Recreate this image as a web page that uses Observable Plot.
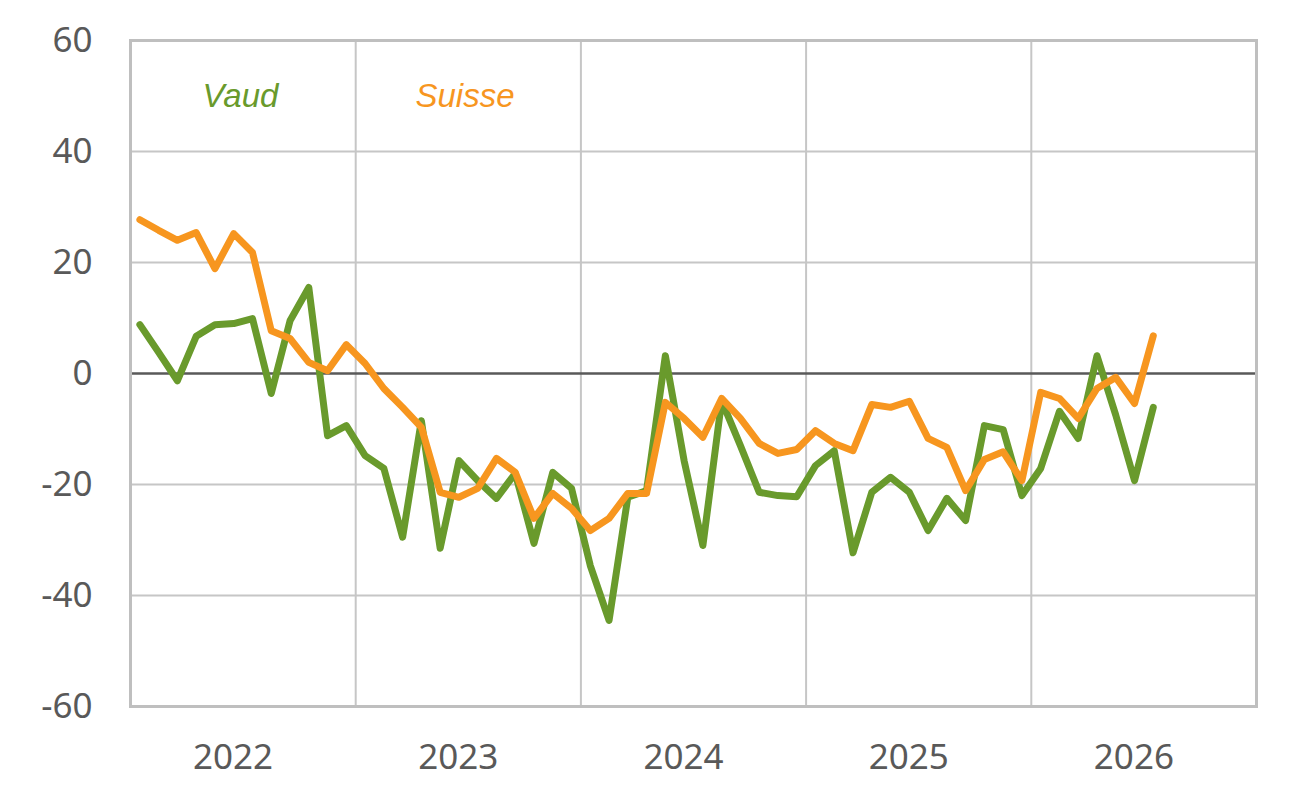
<!DOCTYPE html>
<html>
<head>
<meta charset="utf-8">
<script src="https://cdn.jsdelivr.net/npm/d3@7"></script>
<script src="https://cdn.jsdelivr.net/npm/@observablehq/plot@0.6"></script>
<style>
  html, body { margin: 0; padding: 0; background: #fff; }
  #chart svg { display: block; }
</style>
</head>
<body>
<div id="chart"></div>
<script>
// Monthly values, Jan 2022 onwards (index 0 = Jan 2022)
const years = ["2022", "2023", "2024", "2025", "2026"];
const suisse = [27.7, 25.8, 24.0, 25.4, 18.9, 25.2, 21.8, 7.7, 6.3, 2.0, 0.5, 5.2,
  1.8, -2.7, -6.1, -9.7, -21.4, -22.3, -20.7, -15.3, -17.8, -26.1, -21.6, -24.3,
  -28.3, -26.1, -21.6, -21.6, -5.2, -8.1, -11.5, -4.5, -8.1, -12.6, -14.4, -13.7,
  -10.3, -12.6, -13.9, -5.6, -6.1, -5.0, -11.7, -13.3, -21.1, -15.5, -14.1, -19.3,
  -3.4, -4.5, -8.1, -2.7, -0.7, -5.4, 6.8];
const vaud = [8.8, 3.8, -1.3, 6.7, 8.8, 9.0, 9.9, -3.6, 9.5, 15.5, -11.2, -9.4,
  -14.8, -17.1, -29.5, -8.5, -31.5, -15.7, -19.3, -22.5, -18.0, -30.6, -17.8, -20.7,
  -34.6, -44.5, -22.3, -21.1, 3.2, -15.7, -31.0, -4.9, -13.0, -21.4, -22.0, -22.2,
  -16.6, -13.9, -32.3, -21.4, -18.7, -21.4, -28.3, -22.5, -26.5, -9.4, -10.1, -22.0,
  -17.1, -6.8, -11.7, 3.2, -7.5, -19.3, -6.1];
const yTicks = [-60, -40, -20, 0, 20, 40, 60];
const seriesNames = ["Vaud", "Suisse"];
const colors = {Vaud: "#699a2c", Suisse: "#f7961f"};

const rows = [];
vaud.forEach((v, i) => rows.push({series: "Vaud", m: i + 0.5, value: v}));
suisse.forEach((v, i) => rows.push({series: "Suisse", m: i + 0.5, value: v}));

const yearBounds = years.slice(1).map((_, i) => (i + 1) * 12);
const yearCenters = years.map((_, i) => i * 12 + 6);

const font = "'Noto Sans', 'Open Sans', sans-serif";
const legendFont = "'Liberation Sans', Arial, sans-serif";

const chart = Plot.plot({
  width: 1316,
  height: 797,
  marginLeft: 130,
  marginRight: 60,
  marginTop: 40,
  marginBottom: 91,
  style: {fontFamily: font, background: "#fff"},
  x: {domain: [0, years.length * 12], axis: null, label: null},
  y: {domain: [-60, 60], axis: null, label: null},
  marks: [
    Plot.ruleY(yTicks.filter(d => d !== 0 && Math.abs(d) !== 60), {stroke: "#c6c6c6", strokeWidth: 2}),
    Plot.ruleX(yearBounds, {stroke: "#c6c6c6", strokeWidth: 2}),
    Plot.ruleY([0], {stroke: "#595959", strokeWidth: 2.5}),
    Plot.frame({stroke: "#bfbfbf", strokeWidth: 3}),
    Plot.axisY(yTicks, {tickSize: 0, tickPadding: 38, fontSize: 35, fill: "#595959", anchor: "left",
      label: null, tickFormat: d => String(d)}),
    Plot.axisX(yearCenters, {tickSize: 0, tickPadding: 38, fontSize: 35, fill: "#595959", anchor: "bottom",
      label: null, tickFormat: d => years[(d - 6) / 12], dx: -10}),
    Plot.line(rows, {x: "m", y: "value", z: "series", stroke: d => colors[d.series],
      strokeWidth: 7, strokeLinejoin: "round", strokeLinecap: "round"}),
    Plot.text([seriesNames[0]], {frameAnchor: "top-left", dx: 72, dy: 56, text: d => d, textAnchor: "start",
      lineAnchor: "middle", fill: colors.Vaud, fontSize: 33, fontStyle: "italic", fontFamily: legendFont}),
    Plot.text([seriesNames[1]], {frameAnchor: "top-left", dx: 285, dy: 56, text: d => d, textAnchor: "start",
      lineAnchor: "middle", fill: colors.Suisse, fontSize: 33, fontStyle: "italic", fontFamily: legendFont})
  ]
});
document.getElementById("chart").appendChild(chart);
</script>
</body>
</html>
